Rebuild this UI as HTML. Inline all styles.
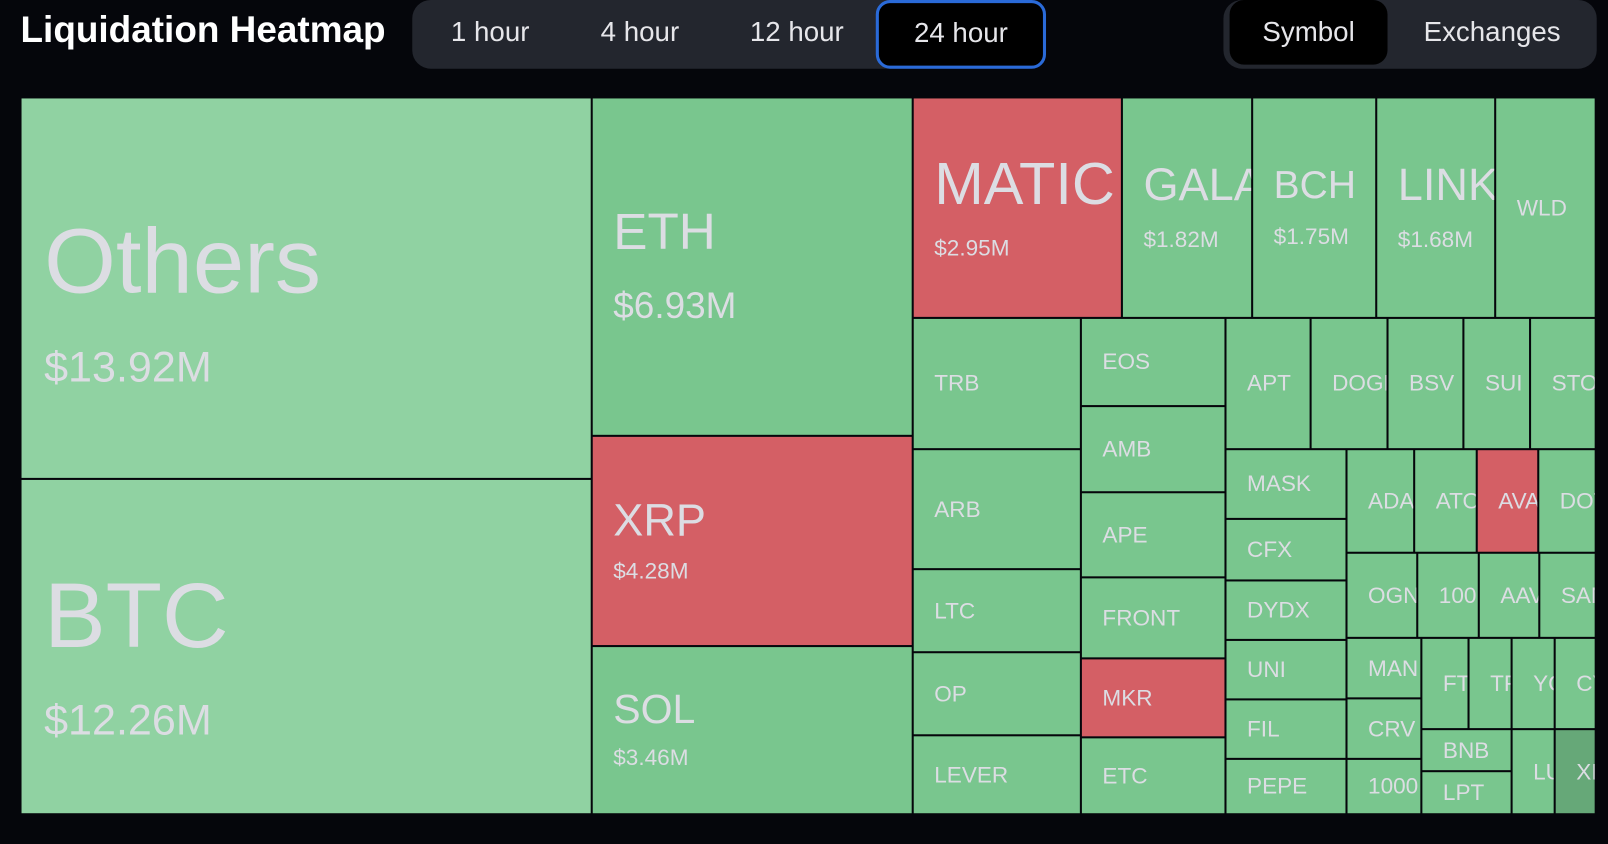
<!DOCTYPE html>
<html><head><meta charset="utf-8"><style>
html,body{margin:0;padding:0;background:#05060b;width:1608px;height:844px;overflow:hidden}
#w{position:absolute;left:0;top:0;width:1568px;height:823px;transform:scale(1.02551);transform-origin:0 0;font-family:"Liberation Sans Narrow","Liberation Sans",sans-serif;color:#dcdde3}
.c{position:absolute;background:#79c68e;overflow:hidden;display:flex;flex-direction:column;justify-content:center;padding-left:20px;box-sizing:border-box;white-space:nowrap;font-size:22px;line-height:1.15}
.r{background:#d45f65}.l{background:#90d2a2}
.v{font-size:22px;margin-top:14px}
.t{position:absolute;left:20px;top:8px;font-family:"Liberation Sans",sans-serif;font-weight:bold;font-size:36px;color:#fff}
.g{position:absolute;top:0;height:67px;background:#23262e;border-radius:18px}
.b{position:absolute;top:0;height:67px;line-height:62px;text-align:center;font-size:27px;color:#e6e6ea}
.a{background:#000;border-radius:14px;box-sizing:border-box}
</style></head><body><div id="w">
<div class="t">Liquidation Heatmap</div>
<div class="g" style="left:402px;width:618px"></div>
<div class="b" style="left:418px;width:120px">1 hour</div>
<div class="b" style="left:564px;width:120px">4 hour</div>
<div class="b" style="left:717px;width:120px">12 hour</div>
<div class="b a" style="left:854px;width:166px;border:3px solid #2a6ad8;line-height:58px">24 hour</div>
<div class="g" style="left:1193px;width:364px"></div>
<div class="b a" style="left:1199px;top:0;width:154px;height:63px;line-height:62px">Symbol</div>
<div class="b" style="left:1380px;width:150px">Exchanges</div>

<div class="c l" style="left:21px;top:96px;width:555px;height:370px;padding-left:22px;padding-top:30px"><div style="font-size:90px;line-height:1">Others</div><div style="font-size:42px;margin-top:34px">$13.92M</div></div>
<div class="c l" style="left:21px;top:468px;width:555px;height:325px;padding-left:22px;padding-top:22px"><div style="font-size:90px;line-height:1">BTC</div><div style="font-size:42px;margin-top:32px">$12.26M</div></div>
<div class="c" style="left:578px;top:96px;width:311px;height:328px"><div style="font-size:50px;line-height:1">ETH</div><div style="font-size:36px;margin-top:26px">$6.93M</div></div>
<div class="c r" style="left:578px;top:426px;width:311px;height:203px"><div style="font-size:44px;line-height:1">XRP</div><div class="v">$4.28M</div></div>
<div class="c" style="left:578px;top:631px;width:311px;height:162px"><div style="font-size:40px;line-height:1">SOL</div><div class="v">$3.46M</div></div>
<div class="c r" style="left:891px;top:96px;width:202px;height:213px"><div style="font-size:58px;line-height:1">MATIC</div><div class="v" style="margin-top:20px">$2.95M</div></div>
<div class="c" style="left:1095px;top:96px;width:125px;height:213px"><div style="font-size:44px;line-height:1">GALA</div><div class="v" style="margin-top:18px">$1.82M</div></div>
<div class="c" style="left:1222px;top:96px;width:119px;height:213px"><div style="font-size:38px;line-height:1">BCH</div><div class="v" style="margin-top:18px">$1.75M</div></div>
<div class="c" style="left:1343px;top:96px;width:114px;height:213px"><div style="font-size:44px;line-height:1">LINK</div><div class="v" style="margin-top:18px">$1.68M</div></div>
<div class="c" style="left:1459px;top:96px;width:96px;height:213px">WLD</div>

<div class="c" style="left:891px;top:311px;width:162px;height:126px">TRB</div>
<div class="c" style="left:891px;top:439px;width:162px;height:115px">ARB</div>
<div class="c" style="left:891px;top:556px;width:162px;height:79px">LTC</div>
<div class="c" style="left:891px;top:637px;width:162px;height:79px">OP</div>
<div class="c" style="left:891px;top:718px;width:162px;height:75px">LEVER</div>
<div class="c" style="left:1055px;top:311px;width:139px;height:84px">EOS</div>
<div class="c" style="left:1055px;top:397px;width:139px;height:82px">AMB</div>
<div class="c" style="left:1055px;top:481px;width:139px;height:81px">APE</div>
<div class="c" style="left:1055px;top:564px;width:139px;height:77px">FRONT</div>
<div class="c r" style="left:1055px;top:643px;width:139px;height:75px">MKR</div>
<div class="c" style="left:1055px;top:720px;width:139px;height:73px">ETC</div>

<div class="c" style="left:1196px;top:311px;width:81px;height:126px">APT</div>
<div class="c" style="left:1279px;top:311px;width:73px;height:126px">DOGE</div>
<div class="c" style="left:1354px;top:311px;width:72px;height:126px">BSV</div>
<div class="c" style="left:1428px;top:311px;width:63px;height:126px">SUI</div>
<div class="c" style="left:1493px;top:311px;width:62px;height:126px">STO</div>

<div class="c" style="left:1196px;top:439px;width:116px;height:66px">MASK</div>
<div class="c" style="left:1196px;top:507px;width:116px;height:58px">CFX</div>
<div class="c" style="left:1196px;top:567px;width:116px;height:56px">DYDX</div>
<div class="c" style="left:1196px;top:625px;width:116px;height:56px">UNI</div>
<div class="c" style="left:1196px;top:683px;width:116px;height:56px">FIL</div>
<div class="c" style="left:1196px;top:741px;width:116px;height:52px">PEPE</div>

<div class="c" style="left:1314px;top:439px;width:64px;height:99px">ADA</div>
<div class="c" style="left:1380px;top:439px;width:59px;height:99px">ATO</div>
<div class="c r" style="left:1441px;top:439px;width:58px;height:99px">AVA</div>
<div class="c" style="left:1501px;top:439px;width:54px;height:99px">DOT</div>
<div class="c" style="left:1314px;top:540px;width:67px;height:81px">OGN</div>
<div class="c" style="left:1383px;top:540px;width:58px;height:81px">100</div>
<div class="c" style="left:1443px;top:540px;width:57px;height:81px">AAV</div>
<div class="c" style="left:1502px;top:540px;width:53px;height:81px">SAN</div>
<div class="c" style="left:1314px;top:623px;width:71px;height:57px">MAN</div>
<div class="c" style="left:1314px;top:682px;width:71px;height:57px">CRV</div>
<div class="c" style="left:1314px;top:741px;width:71px;height:52px">1000</div>
<div class="c" style="left:1387px;top:623px;width:44px;height:87px">FT</div>
<div class="c" style="left:1433px;top:623px;width:40px;height:87px">TF</div>
<div class="c" style="left:1475px;top:623px;width:40px;height:87px">YC</div>
<div class="c" style="left:1517px;top:623px;width:38px;height:87px">CY</div>
<div class="c" style="left:1387px;top:712px;width:86px;height:39px">BNB</div>
<div class="c" style="left:1387px;top:753px;width:86px;height:40px">LPT</div>
<div class="c" style="left:1475px;top:712px;width:40px;height:81px">LU</div>
<div class="c" style="left:1517px;top:712px;width:38px;height:81px;background:#66a878">XI</div>
</div></body></html>
